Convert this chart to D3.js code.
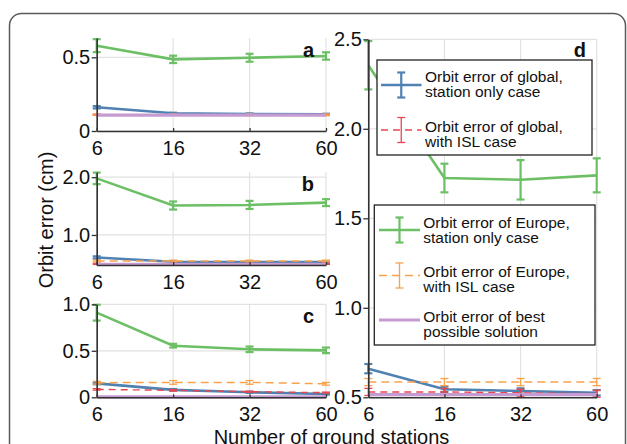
<!DOCTYPE html>
<html>
<head>
<meta charset="utf-8">
<script src="https://cdn.jsdelivr.net/npm/d3@7/dist/d3.min.js"></script>
<style>
  html, body { margin: 0; padding: 0; background: #fff; }
  svg { display: block; font-family: "Liberation Sans", Arial, sans-serif; }
</style>
</head>
<body>
<svg id="chart" width="627" height="444"></svg>
<script>
// Number of ground stations (categorical x axis, shared by all panels)
const stations = ["6", "16", "32", "60"];

// Series order: global station-only, global with ISL, Europe station-only,
// Europe with ISL, best possible solution
const seriesKeys = ["globalStation", "globalISL", "europeStation", "europeISL", "best"];
const legendLines = [
  ["Orbit error of global,", "station only case"],
  ["Orbit error of global,", "with ISL case"],
  ["Orbit error of Europe,", "station only case"],
  ["Orbit error of Europe,", "with ISL case"],
  ["Orbit error of best", "possible solution"]
];

// Panel a — orbit error (cm) and error-bar half widths
const aValues = [
  [0.161, 0.120, 0.115, 0.113],
  [0.110, 0.110, 0.109, 0.109],
  [0.579, 0.486, 0.497, 0.509],
  [0.111, 0.111, 0.111, 0.111],
  [0.108, 0.108, 0.108, 0.108]
];
const aErrors = [
  [0.008, 0.004, 0.004, 0.004],
  [0.004, 0.004, 0.004, 0.004],
  [0.044, 0.025, 0.027, 0.025],
  [0.004, 0.004, 0.004, 0.004],
  null
];

// Panel b
const bValues = [
  [0.61, 0.535, 0.53, 0.53],
  [0.50, 0.50, 0.50, 0.50],
  [1.98, 1.51, 1.52, 1.56],
  [0.55, 0.55, 0.55, 0.55],
  [0.49, 0.49, 0.49, 0.49]
];
const bErrors = [
  [0.02, 0.01, 0.01, 0.01],
  [0.01, 0.01, 0.01, 0.01],
  [0.10, 0.07, 0.07, 0.06],
  [0.015, 0.015, 0.015, 0.015],
  null
];

// Panel c
const cValues = [
  [0.15, 0.08, 0.054, 0.035],
  [0.085, 0.075, 0.06, 0.05],
  [0.91, 0.555, 0.516, 0.505],
  [0.157, 0.16, 0.16, 0.145],
  [0.005, 0.005, 0.005, 0.005]
];
const cErrors = [
  [0.01, 0.008, 0.006, 0.006],
  [0.008, 0.008, 0.006, 0.006],
  [0.085, 0.02, 0.03, 0.03],
  [0.015, 0.02, 0.02, 0.015],
  null
];

// Panel d
const dValues = [
  [0.66, 0.545, 0.535, 0.525],
  [0.53, 0.53, 0.525, 0.52],
  [2.355, 1.725, 1.715, 1.74],
  [0.585, 0.585, 0.585, 0.585],
  [0.515, 0.515, 0.515, 0.515]
];
const dErrors = [
  [0.026, 0.015, 0.015, 0.015],
  [0.02, 0.02, 0.02, 0.02],
  [0.135, 0.08, 0.11, 0.095],
  [0.02, 0.02, 0.02, 0.02],
  null
];

// Y tick values per panel
const aTicks = [0, 0.5];
const bTicks = [1.0, 2.0];
const cTicks = [0, 0.5, 1.0];
const dTicks = [0.5, 1.0, 1.5, 2.0, 2.5];

// Series styling
const styles = {
  globalStation: { color: "#4f81b2", width: 2.6, dash: null, errWidth: 2.2 },
  globalISL:     { color: "#e8474f", width: 1.4, dash: "7,5", errWidth: 1.3 },
  europeStation: { color: "#6cbf64", width: 2.6, dash: null, errWidth: 2.2 },
  europeISL:     { color: "#f9a24c", width: 1.5, dash: "8,5", errWidth: 1.3 },
  best:          { color: "#c59bd2", width: 3.2, dash: null, errWidth: 0 }
};

const svg = d3.select("#chart");
const FONT = 20;

// Outer rounded frame
svg.append("rect")
  .attr("x", 9.5).attr("y", 13.5)
  .attr("width", 616).attr("height", 600)
  .attr("rx", 12)
  .attr("fill", "none").attr("stroke", "#5a5a5a").attr("stroke-width", 1.5);

const panels = [
  { label: "a", values: aValues, errors: aErrors, ticks: aTicks, domain: [0, 0.631],
    x0: 96.7, x1: 326, top: 38, bottom: 131 },
  { label: "b", values: bValues, errors: bErrors, ticks: bTicks, domain: [0.48, 2.09],
    x0: 96.7, x1: 326, top: 172, bottom: 265 },
  { label: "c", values: cValues, errors: cErrors, ticks: cTicks, domain: [0, 1.0],
    x0: 96.7, x1: 326, top: 304.3, bottom: 397.3 },
  { label: "d", values: dValues, errors: dErrors, ticks: dTicks, domain: [0.5, 2.5],
    x0: 368.3, x1: 596.7, top: 39.3, bottom: 397.3 }
];

const tickFmt = v => (v === 0 ? "0" : d3.format(".1f")(v));

panels.forEach(p => {
  const x = d3.scalePoint().domain(stations).range([p.x0, p.x1]);
  const y = d3.scaleLinear().domain(p.domain).range([p.bottom, p.top]);
  const g = svg.append("g");

  // grid
  g.append("g").selectAll("line.vg").data(stations).join("line")
    .attr("x1", d => x(d)).attr("x2", d => x(d))
    .attr("y1", p.top).attr("y2", p.bottom)
    .attr("stroke", "#e2e2e2").attr("stroke-width", 1.2);
  g.append("g").selectAll("line.hg").data(p.ticks).join("line")
    .attr("x1", p.x0).attr("x2", p.x1)
    .attr("y1", d => y(d)).attr("y2", d => y(d))
    .attr("stroke", "#e2e2e2").attr("stroke-width", 1.2);

  // series
  seriesKeys.forEach((key, si) => {
    const st = styles[key];
    const vals = p.values[si];
    const errs = p.errors[si];
    const pts = stations.map((s, i) => ({ s, v: vals[i], e: errs ? errs[i] : 0 }));
    const line = d3.line().x(d => x(d.s)).y(d => y(d.v));
    g.append("path").datum(pts)
      .attr("d", line)
      .attr("fill", "none")
      .attr("stroke", st.color)
      .attr("stroke-width", st.width)
      .attr("stroke-dasharray", st.dash);
    if (errs) {
      const eg = g.append("g").attr("stroke", st.color).attr("stroke-width", st.errWidth);
      pts.forEach(d => {
        const cx = x(d.s);
        eg.append("line").attr("x1", cx).attr("x2", cx)
          .attr("y1", y(d.v - d.e)).attr("y2", y(d.v + d.e));
        [d.v - d.e, d.v + d.e].forEach(v => {
          eg.append("line").attr("x1", cx - 4).attr("x2", cx + 4)
            .attr("y1", y(v)).attr("y2", y(v));
        });
      });
    }
  });

  // axes
  const yAxis = d3.axisLeft(y).tickValues(p.ticks).tickFormat(tickFmt)
    .tickSize(5).tickSizeOuter(0).tickPadding(1.5);
  const ya = g.append("g").attr("transform", `translate(${p.x0},0)`).call(yAxis);
  const xAxis = d3.axisBottom(x).tickSize(-3).tickSizeOuter(0).tickPadding(9.5);
  const xa = g.append("g").attr("transform", `translate(0,${p.bottom})`).call(xAxis);
  [ya, xa].forEach(a => {
    a.select(".domain").attr("stroke", "#333").attr("stroke-width", 1.6);
    a.selectAll(".tick line").attr("stroke", "#333").attr("stroke-width", 1.3);
    a.selectAll(".tick text").attr("fill", "#111")
      .style("font-size", FONT + "px").style("font-family", "Liberation Sans, Arial, sans-serif");
  });

  // panel letter
  g.append("text")
    .attr("x", p.label === "d" ? 586 : 314)
    .attr("y", p.top + (p.label === "d" ? 18 : 19))
    .attr("text-anchor", "end")
    .attr("font-weight", "bold")
    .attr("font-size", 20)
    .attr("fill", "#111")
    .text(p.label);
});

// Legends: each entry has a marker row (cy) and a first text baseline (ty)
function drawLegend(box, items) {
  const lg = svg.append("g");
  lg.append("rect")
    .attr("x", box.x).attr("y", box.y).attr("width", box.w).attr("height", box.h)
    .attr("fill", "#fff").attr("stroke", "#222").attr("stroke-width", 1.3);
  items.forEach(it => {
    const key = seriesKeys[it.index];
    const st = styles[key];
    lg.append("line")
      .attr("x1", box.lineX0).attr("x2", box.lineX1)
      .attr("y1", it.cy).attr("y2", it.cy)
      .attr("stroke", st.color).attr("stroke-width", st.width)
      .attr("stroke-dasharray", st.dash);
    if (st.errWidth > 0) {
      const cx = (box.lineX0 + box.lineX1) / 2;
      const eg = lg.append("g").attr("stroke", st.color).attr("stroke-width", st.errWidth);
      eg.append("line").attr("x1", cx).attr("x2", cx).attr("y1", it.cy - 12.5).attr("y2", it.cy + 12.5);
      [it.cy - 12.5, it.cy + 12.5].forEach(v =>
        eg.append("line").attr("x1", cx - 4).attr("x2", cx + 4).attr("y1", v).attr("y2", v));
    }
    legendLines[it.index].forEach((t, li) => {
      lg.append("text")
        .attr("x", box.textX).attr("y", it.ty + li * 15)
        .attr("font-size", 15.5).attr("fill", "#111")
        .text(t);
    });
  });
}

drawLegend({ x: 377, y: 60, w: 215, h: 95, lineX0: 381, lineX1: 421.5, textX: 425 },
  [{ index: 0, cy: 85, ty: 81.7 }, { index: 1, cy: 130, ty: 131.7 }]);
drawLegend({ x: 374.3, y: 205, w: 220.7, h: 140, lineX0: 379, lineX1: 420, textX: 423.3 },
  [{ index: 2, cy: 230, ty: 227.7 }, { index: 3, cy: 275.5, ty: 277.3 }, { index: 4, cy: 320, ty: 321.7 }]);

// Axis titles
svg.append("text")
  .attr("transform", "translate(53,220) rotate(-90)")
  .attr("text-anchor", "middle")
  .attr("font-size", FONT).attr("fill", "#111")
  .text("Orbit error (cm)");
svg.append("text")
  .attr("x", 331.5).attr("y", 443.5)
  .attr("text-anchor", "middle")
  .attr("font-size", FONT).attr("fill", "#111")
  .text("Number of ground stations");
</script>
</body>
</html>
